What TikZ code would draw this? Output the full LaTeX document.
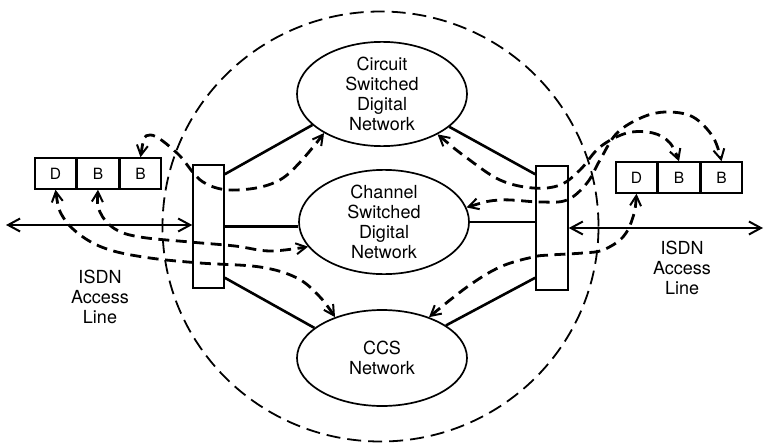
\documentclass[tikz,border=0pt]{standalone}
\usepackage{fontspec}
\setmainfont{TeX Gyre Heros}
\usetikzlibrary{arrows.meta,shapes.geometric,calc}
\begin{document}
\begin{tikzpicture}[x=1pt,y=-1pt,
  net/.style={draw, line width=1.7pt, ellipse, minimum width=170pt, minimum height=91pt, inner sep=0pt, align=center, font=\fontsize{18}{20}\selectfont},
  cell/.style={draw, line width=1.5pt, minimum width=41pt, minimum height=31pt, inner sep=0pt, font=\fontsize{15.5}{18}\selectfont},
  swbox/.style={draw, line width=1.5pt, minimum width=31pt, minimum height=123pt, inner sep=0pt},
  lbl/.style={align=center, inner sep=0pt, font=\fontsize{18}{20}\selectfont},
  trunk/.style={line width=2.6pt},
  sig/.style={line width=2.8pt, dash pattern=on 11pt off 6.5pt, >={Straight Barb[length=10pt,width=11pt,line width=2pt]}, <->},
  access/.style={line width=2.2pt, >={Straight Barb[length=12pt,width=13pt,line width=2pt]}, <->},
  bigcirc/.style={line width=1.8pt, dash pattern=on 14pt off 7pt}
]
\useasboundingbox (0,0) rectangle (765,444);

% outer ISDN boundary
\draw[bigcirc] (380.5,226.5) ellipse [x radius=218pt, y radius=215pt];

% networks
\node[net] (csd) at (382,94) {Circuit\\Switched\\Digital\\Network};
\node[net, minimum height=95pt] (chn) at (384,222) {Channel\\Switched\\Digital\\Network};
\node[net, minimum height=96pt] (ccs) at (382,358) {CCS\\Network};

% switches
\node[swbox] (lsw) at (208.5,226.5) {};
\node[swbox, minimum width=32pt, minimum height=124pt] (rsw) at (552,228) {};

% channel boxes
\node[cell] (lD) at (55.5,173.5) {D};
\node[cell, anchor=west] (lB1) at (lD.east) {B};
\node[cell, anchor=west] (lB2) at (lB1.east) {B};
\node[cell] (rD) at (636.5,177.5) {D};
\node[cell, anchor=west] (rB1) at (rD.east) {B};
\node[cell, anchor=west] (rB2) at (rB1.east) {B};

% labels
\node[lbl] (lisdn) at (100,297) {ISDN\\Access\\Line};
\node[lbl] (risdn) at (682,268) {ISDN\\Access\\Line};

% access lines
\coordinate (lend) at (6,225);
\coordinate (rend) at (763,228);
\draw[access] (lend) -- (lend -| lsw.west);
\draw[access] (rsw.east |- rend) -- (rend);

% trunks
\draw[trunk] ($(lsw.north east)+(0,10)$) -- (csd.204);
\draw[trunk] (lsw.east) -- (chn.west |- lsw.east);
\draw[trunk] ($(lsw.south east)+(0,-11)$) -- (ccs.156);
\draw[trunk] ($(rsw.north west)+(0,9)$) -- (csd.334);
\draw[trunk] (rsw.west |- chn.east) -- (chn.east);
\draw[trunk] ($(rsw.south west)+(0,-13)$) -- (ccs.27);

% signalling / bearer paths
\draw[sig] plot[smooth, tension=0.6] coordinates {(lB2.north) (150,135) (177,153) (203,182) (237,190) (283,178) (csd.214)};
\draw[sig] plot[smooth, tension=0.6] coordinates {(lB1.south) (100,212) (115,229) (140,237) (190,242) (235,246) (270,251) (chn.198)};
\draw[sig] plot[smooth, tension=0.6] coordinates {(lD.south) (63,217) (83,237) (110,250) (150,258) (200,263) (260,267) (297,278) (320,297) (ccs.139)};
\draw[sig] plot[smooth, tension=0.6] coordinates {(csd.324) (467,158) (500,180) (533,188) (560,185) (580,170) (600,147) (627,133) (653,133) (670,143) (rB1.north)};
\draw[sig] plot[smooth, tension=0.6] coordinates {(chn.10) (500,200) (540,202) (567,200) (587,183) (600,160) (617,133) (643,117) (667,112) (693,117) (713,137) (rB2.north)};
\draw[sig] plot[smooth, tension=0.6] coordinates {(rD.south) (633,217) (623,237) (603,250) (583,253) (550,255) (533,257) (500,267) (467,287) (ccs.41)};
\end{tikzpicture}
\end{document}
